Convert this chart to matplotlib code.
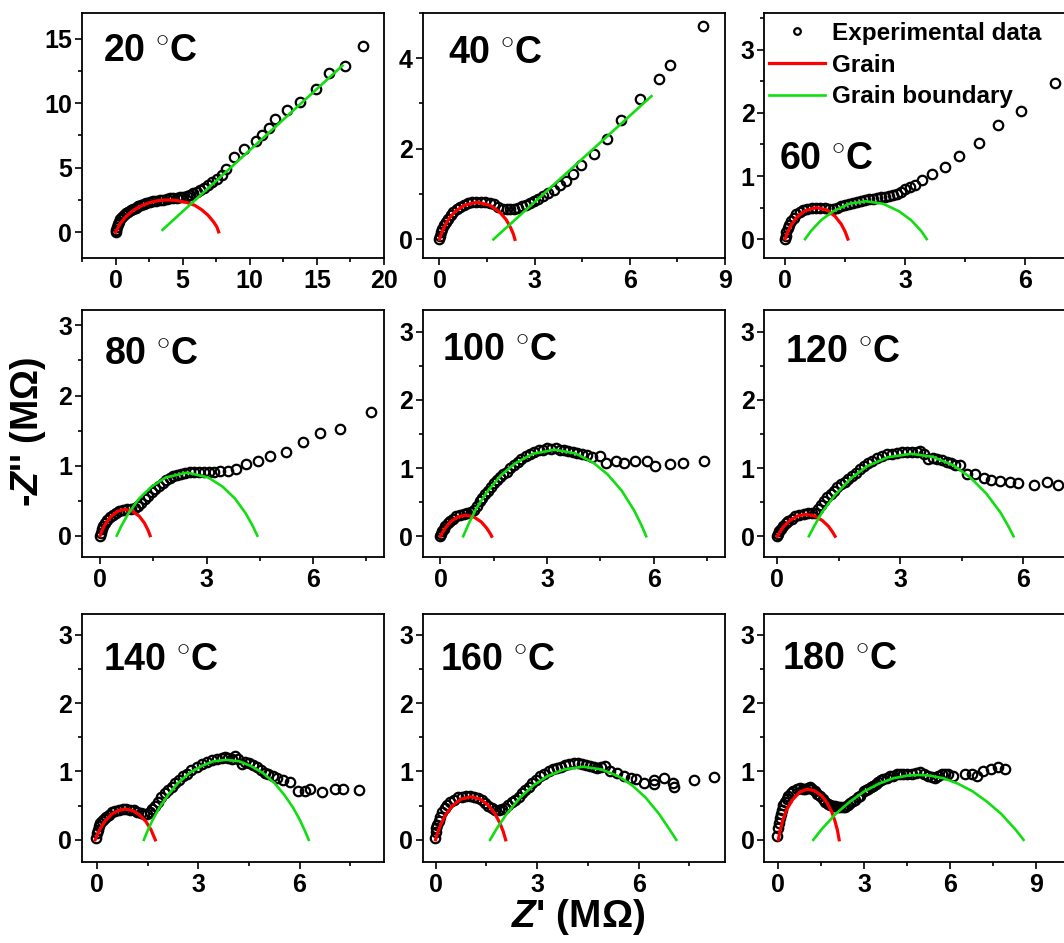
import matplotlib
matplotlib.use("Agg")
import matplotlib.pyplot as plt
from matplotlib.ticker import MultipleLocator

plt.rcParams['font.family'] = ['Liberation Sans', 'DejaVu Sans']
plt.rcParams['font.weight'] = 'bold'
plt.rcParams['mathtext.fontset'] = 'custom'
plt.rcParams['mathtext.rm'] = 'Liberation Sans:bold'
plt.rcParams['mathtext.bf'] = 'Liberation Sans:bold'
plt.rcParams['mathtext.it'] = 'Liberation Sans:italic:bold'

# ---- data (Z' and -Z'' in MOhm) ----
temps = ['20', '40', '60', '80', '100', '120', '140', '160', '180']

re_20 = [0, 0.03, 0.08, 0.15, 0.25, 0.35, 0.48, 0.62, 0.78, 0.95, 1.12, 1.3, 1.5, 1.7, 1.9,
         2.1, 2.3, 2.55, 2.8, 3.05, 3.3, 3.55, 3.8, 4.05, 4.3, 4.55, 4.8, 5.05, 5.3, 5.55,
         5.8, 6.05, 6.3, 6.6, 6.9, 7.2, 7.55, 7.9, 8.25, 8.8, 9.6, 10.5, 10.9, 11.4, 11.9,
         12.8, 13.75, 14.9, 15.9, 17.1, 18.45]
im_20 = [0, 0.2, 0.42, 0.62, 0.82, 1.0, 1.17, 1.32, 1.47, 1.6, 1.7, 1.8, 1.9, 2.0, 2.1,
         2.18, 2.25, 2.32, 2.38, 2.44, 2.49, 2.53, 2.57, 2.61, 2.64, 2.68, 2.72, 2.76, 2.82, 2.9,
         3.0, 3.12, 3.25, 3.42, 3.62, 3.85, 4.1, 4.4, 4.9, 5.85, 6.45, 7.05, 7.5, 8.05, 8.75,
         9.45, 10.05, 11.1, 12.3, 12.9, 14.4]
g_re_20 = [0, 0.3, 0.7, 1.2, 1.8, 2.5, 3.2, 3.84, 4.5, 5.3, 5.9, 6.4, 6.9, 7.3, 7.55, 7.68]
g_im_20 = [0, 0.6, 1.12, 1.6, 1.98, 2.28, 2.45, 2.5, 2.46, 2.3, 2.08, 1.75, 1.3, 0.8, 0.4, 0.02]
gb_re_20 = [3.5, 16.9]
gb_im_20 = [0.18, 12.9]

re_40 = [0, 0.02, 0.05, 0.09, 0.14, 0.2, 0.27, 0.35, 0.44, 0.54, 0.65, 0.77, 0.9, 1.03, 1.16,
         1.3, 1.44, 1.58, 1.72, 1.86, 2.0, 2.12, 2.24, 2.36, 2.48, 2.6, 2.72, 2.85, 2.98, 3.12,
         3.27, 3.43, 3.6, 3.8, 4.0, 4.22, 4.47, 4.88, 5.3, 5.72, 6.33, 6.94, 7.28, 8.32]
im_40 = [0, 0.08, 0.16, 0.24, 0.32, 0.39, 0.46, 0.53, 0.6, 0.66, 0.71, 0.76, 0.8, 0.82, 0.83,
         0.83, 0.82, 0.8, 0.77, 0.72, 0.68, 0.66, 0.66, 0.68, 0.7, 0.73, 0.76, 0.8, 0.85, 0.9,
         0.96, 1.03, 1.1, 1.2, 1.29, 1.44, 1.65, 1.89, 2.21, 2.63, 3.1, 3.53, 3.84, 4.71]
g_re_40 = [0, 0.05, 0.15, 0.3, 0.5, 0.8, 1.19, 1.6, 1.9, 2.1, 2.25, 2.33, 2.38]
g_im_40 = [0, 0.11, 0.28, 0.46, 0.62, 0.76, 0.82, 0.75, 0.6, 0.44, 0.25, 0.12, 0]
gb_re_40 = [1.7, 6.69]
gb_im_40 = [0.0, 3.16]

re_60 = [0, 0.01, 0.03, 0.06, 0.1, 0.15, 0.21, 0.28, 0.36, 0.45, 0.55, 0.66, 0.77, 0.88, 0.99,
         1.1, 1.2, 1.3, 1.4, 1.5, 1.6, 1.7, 1.8, 1.9, 2.0, 2.1, 2.2, 2.3, 2.4, 2.5,
         2.6, 2.7, 2.8, 2.9, 3.0, 3.12, 3.25, 3.42, 3.68, 4.0, 4.34, 4.85, 5.33, 5.9, 6.75]
im_60 = [0, 0.05, 0.11, 0.17, 0.23, 0.29, 0.34, 0.39, 0.43, 0.46, 0.48, 0.49, 0.5, 0.5, 0.49,
         0.48, 0.48, 0.49, 0.52, 0.54, 0.56, 0.58, 0.59, 0.61, 0.62, 0.63, 0.64, 0.65, 0.66, 0.67,
         0.68, 0.7, 0.72, 0.75, 0.79, 0.82, 0.86, 0.94, 1.04, 1.15, 1.32, 1.53, 1.81, 2.03, 2.47]
g_re_60 = [0, 0.05, 0.15, 0.3, 0.5, 0.785, 1.05, 1.25, 1.4, 1.5, 1.57]
g_im_60 = [0, 0.09, 0.22, 0.35, 0.45, 0.5, 0.46, 0.36, 0.24, 0.12, 0]
gb_re_60 = [0.5, 0.65, 0.9, 1.2, 1.6, 2.02, 2.45, 2.85, 3.15, 3.4, 3.54]
gb_im_60 = [0, 0.13, 0.3, 0.44, 0.56, 0.6, 0.56, 0.44, 0.3, 0.13, 0]

re_80 = [0, 0.02, 0.05, 0.09, 0.14, 0.2, 0.27, 0.35, 0.44, 0.54, 0.65, 0.76, 0.87, 0.97, 1.06,
         1.16, 1.26, 1.36, 1.46, 1.56, 1.66, 1.76, 1.86, 1.96, 2.06, 2.17, 2.28, 2.4, 2.52, 2.65,
         2.78, 2.92, 3.06, 3.2, 3.37, 3.6, 3.84, 4.12, 4.45, 4.78, 5.25, 5.72, 6.21, 6.75, 7.63]
im_80 = [0, 0.04, 0.09, 0.14, 0.18, 0.22, 0.26, 0.3, 0.33, 0.35, 0.37, 0.38, 0.385, 0.39, 0.42,
         0.47, 0.52, 0.57, 0.62, 0.67, 0.71, 0.75, 0.79, 0.82, 0.85, 0.87, 0.88, 0.895, 0.905, 0.91,
         0.915, 0.915, 0.915, 0.915, 0.92, 0.92, 0.95, 1.02, 1.06, 1.13, 1.2, 1.33, 1.46, 1.52, 1.76]
g_re_80 = [0, 0.05, 0.15, 0.3, 0.5, 0.705, 0.9, 1.1, 1.25, 1.35, 1.41]
g_im_80 = [0, 0.067, 0.17, 0.27, 0.35, 0.375, 0.35, 0.28, 0.18, 0.08, 0]
gb_re_80 = [0.47, 0.6, 0.8, 1.1, 1.45, 1.85, 2.45, 3.05, 3.45, 3.8, 4.1, 4.3, 4.43]
gb_im_80 = [0, 0.14, 0.32, 0.53, 0.7, 0.83, 0.9, 0.83, 0.7, 0.53, 0.32, 0.14, 0]

re_100 = [0, 0.02, 0.05, 0.09, 0.14, 0.2, 0.27, 0.35, 0.44, 0.54, 0.65, 0.76, 0.86, 0.94, 1.02,
          1.1, 1.18, 1.26, 1.34, 1.42, 1.5, 1.59, 1.68, 1.77, 1.86, 1.96, 2.06, 2.17, 2.28, 2.4,
          2.52, 2.64, 2.76, 2.88, 3.0, 3.12, 3.24, 3.36, 3.48, 3.6, 3.72, 3.85, 3.98, 4.12, 4.26,
          4.48, 4.67, 4.95, 5.16, 5.48, 5.8, 6.05, 6.47, 6.83, 7.41]
im_100 = [0, 0.03, 0.07, 0.11, 0.15, 0.19, 0.23, 0.26, 0.29, 0.31, 0.33, 0.34, 0.35, 0.39, 0.45,
          0.51, 0.56, 0.62, 0.67, 0.73, 0.78, 0.83, 0.87, 0.91, 0.95, 1.0, 1.05, 1.09, 1.14, 1.18,
          1.21, 1.24, 1.26, 1.27, 1.29, 1.28, 1.29, 1.27, 1.27, 1.25, 1.24, 1.22, 1.2, 1.19, 1.165,
          1.18, 1.08, 1.1, 1.07, 1.1, 1.11, 1.03, 1.06, 1.08, 1.1]
g_re_100 = [0, 0.05, 0.15, 0.3, 0.5, 0.72, 0.95, 1.15, 1.3, 1.4, 1.44]
g_im_100 = [0, 0.05, 0.13, 0.22, 0.285, 0.31, 0.28, 0.21, 0.12, 0.04, 0]
gb_re_100 = [0.64, 0.8, 1.0, 1.3, 1.7, 2.1, 2.6, 3.215, 3.8, 4.3, 4.7, 5.1, 5.45, 5.65, 5.79]
gb_im_100 = [0, 0.19, 0.4, 0.645, 0.895, 1.07, 1.21, 1.27, 1.215, 1.08, 0.91, 0.67, 0.38, 0.17, 0]

re_120 = [0, 0.02, 0.05, 0.09, 0.14, 0.2, 0.27, 0.35, 0.44, 0.54, 0.64, 0.74, 0.84, 0.93, 1.0,
          1.07, 1.14, 1.22, 1.3, 1.38, 1.46, 1.55, 1.64, 1.73, 1.82, 1.92, 2.02, 2.12, 2.22, 2.32,
          2.43, 2.55, 2.67, 2.8, 2.92, 3.04, 3.16, 3.28, 3.4, 3.49, 3.59, 3.69, 3.8, 3.9, 4.02,
          4.14, 4.24, 4.34, 4.47, 4.63, 4.83, 5.04, 5.22, 5.44, 5.69, 5.89, 6.26, 6.59, 6.85]
im_120 = [0, 0.03, 0.07, 0.11, 0.15, 0.19, 0.23, 0.26, 0.29, 0.31, 0.33, 0.34, 0.335, 0.34, 0.4,
          0.46, 0.51, 0.57, 0.62, 0.67, 0.72, 0.76, 0.8, 0.84, 0.88, 0.93, 0.98, 1.03, 1.07, 1.11,
          1.15, 1.18, 1.2, 1.21, 1.22, 1.24, 1.23, 1.24, 1.23, 1.25, 1.2, 1.14, 1.15, 1.14, 1.12,
          1.09, 1.07, 1.04, 1.04, 0.92, 0.92, 0.86, 0.83, 0.81, 0.79, 0.78, 0.755, 0.8, 0.755]
g_re_120 = [0, 0.05, 0.15, 0.3, 0.5, 0.705, 0.9, 1.1, 1.25, 1.35, 1.41]
g_im_120 = [0, 0.053, 0.14, 0.23, 0.3, 0.32, 0.3, 0.23, 0.145, 0.06, 0]
gb_re_120 = [0.77, 0.9, 1.1, 1.4, 1.8, 2.2, 2.7, 3.27, 3.8, 4.3, 4.7, 5.1, 5.45, 5.65, 5.77]
gb_im_120 = [0, 0.15, 0.36, 0.6, 0.85, 1.03, 1.16, 1.21, 1.165, 1.04, 0.87, 0.63, 0.35, 0.14, 0]

re_140 = [-0.03, 0.0, 0.02, 0.05, 0.09, 0.14, 0.2, 0.27, 0.35, 0.44, 0.54, 0.65, 0.76, 0.87, 0.98,
          1.09, 1.2, 1.3, 1.4, 1.48, 1.56, 1.64, 1.72, 1.81, 1.91, 2.01, 2.11, 2.21, 2.31, 2.43,
          2.55, 2.67, 2.8, 2.95, 3.1, 3.25, 3.4, 3.55, 3.69, 3.79, 3.89, 3.99, 4.09, 4.19, 4.29,
          4.39, 4.49, 4.61, 4.73, 4.86, 4.98, 5.08, 5.2, 5.33, 5.52, 5.72, 5.95, 6.17, 6.32, 6.66,
          7.06, 7.28, 7.77]
im_140 = [0.02, 0.1, 0.15, 0.2, 0.24, 0.28, 0.31, 0.34, 0.37, 0.4, 0.42, 0.44, 0.45, 0.45, 0.44,
          0.43, 0.41, 0.39, 0.38, 0.38, 0.41, 0.45, 0.5, 0.56, 0.63, 0.68, 0.73, 0.78, 0.83, 0.88,
          0.93, 0.97, 1.02, 1.07, 1.11, 1.14, 1.17, 1.19, 1.2, 1.21, 1.2, 1.19, 1.22, 1.18, 1.11,
          1.14, 1.13, 1.1, 1.06, 1.02, 0.985, 0.96, 0.93, 0.9, 0.88, 0.84, 0.72, 0.72, 0.74, 0.7,
          0.74, 0.75, 0.73]
g_re_140 = [-0.05, 0.0, 0.1, 0.25, 0.45, 0.65, 0.84, 1.05, 1.25, 1.45, 1.6, 1.73]
g_im_140 = [0, 0.063, 0.165, 0.28, 0.38, 0.43, 0.45, 0.43, 0.37, 0.27, 0.15, 0]
gb_re_140 = [1.39, 1.5, 1.65, 1.85, 2.1, 2.4, 2.75, 3.1, 3.45, 3.83, 4.21, 4.56, 4.91, 5.26,
             5.56, 5.81, 6.01, 6.16, 6.27]
gb_im_140 = [0, 0.13, 0.29, 0.47, 0.65, 0.83, 0.98, 1.08, 1.15, 1.17, 1.15, 1.08, 0.98, 0.83,
             0.65, 0.47, 0.29, 0.13, 0]

re_160 = [-0.03, 0.0, 0.02, 0.05, 0.09, 0.14, 0.2, 0.27, 0.35, 0.44, 0.54, 0.65, 0.77, 0.89, 1.02,
          1.14, 1.26, 1.36, 1.46, 1.56, 1.66, 1.76, 1.86, 1.96, 2.05, 2.15, 2.25, 2.35, 2.45, 2.55,
          2.65, 2.75, 2.84, 2.96, 3.09, 3.21, 3.34, 3.46, 3.58, 3.7, 3.83, 3.95, 4.08, 4.2, 4.32,
          4.45, 4.57, 4.67, 4.77, 4.88, 4.99, 5.16, 5.36, 5.56, 5.76, 5.93, 6.17, 6.45, 6.45, 6.76,
          7.02, 7.04, 7.63, 8.22]
im_160 = [0.03, 0.12, 0.17, 0.22, 0.28, 0.34, 0.4, 0.46, 0.51, 0.55, 0.59, 0.62, 0.63, 0.64, 0.64,
          0.63, 0.61, 0.58, 0.54, 0.5, 0.46, 0.44, 0.44, 0.45, 0.46, 0.51, 0.56, 0.59, 0.63, 0.68,
          0.73, 0.78, 0.83, 0.88, 0.93, 0.97, 1.0, 1.03, 1.05, 1.07, 1.1, 1.11, 1.12, 1.12, 1.11,
          1.1, 1.08, 1.06, 1.05, 1.06, 1.08, 1.0, 0.98, 0.94, 0.91, 0.89, 0.83, 0.81, 0.87, 0.9,
          0.83, 0.77, 0.88, 0.92]
g_re_160 = [0, 0.05, 0.15, 0.3, 0.5, 0.75, 1.035, 1.3, 1.55, 1.75, 1.9, 2.0, 2.07]
g_im_160 = [0, 0.087, 0.22, 0.37, 0.5, 0.595, 0.63, 0.6, 0.51, 0.385, 0.245, 0.12, 0]
gb_re_160 = [1.61, 1.8, 2.1, 2.5, 2.9, 3.3, 3.8, 4.36, 4.9, 5.4, 5.8, 6.2, 6.6, 6.9, 7.11]
gb_im_160 = [0, 0.16, 0.38, 0.62, 0.8, 0.93, 1.03, 1.07, 1.03, 0.93, 0.8, 0.62, 0.38, 0.16, 0]

re_180 = [-0.03, 0.0, 0.03, 0.06, 0.09, 0.12, 0.17, 0.23, 0.29, 0.35, 0.43, 0.52, 0.64, 0.76, 0.85,
          0.93, 1.02, 1.1, 1.19, 1.28, 1.36, 1.45, 1.54, 1.63, 1.72, 1.8, 1.89, 1.98, 2.07, 2.15,
          2.24, 2.33, 2.42, 2.5, 2.59, 2.67, 2.76, 2.85, 2.97, 3.06, 3.14, 3.23, 3.31, 3.4, 3.49,
          3.57, 3.66, 3.78, 3.9, 4.01, 4.13, 4.25, 4.36, 4.5, 4.65, 4.8, 4.94, 5.08, 5.23, 5.35,
          5.47, 5.58, 5.7, 5.82, 5.93, 6.1, 6.51, 6.74, 6.92, 7.15, 7.41, 7.67, 7.91]
im_180 = [0.05, 0.17, 0.25, 0.32, 0.38, 0.44, 0.51, 0.56, 0.6, 0.64, 0.68, 0.72, 0.75, 0.76, 0.75,
          0.74, 0.76, 0.77, 0.74, 0.71, 0.67, 0.64, 0.6, 0.56, 0.53, 0.51, 0.5, 0.49, 0.48, 0.48,
          0.48, 0.48, 0.51, 0.54, 0.57, 0.59, 0.62, 0.64, 0.71, 0.73, 0.75, 0.77, 0.79, 0.82, 0.84,
          0.87, 0.89, 0.91, 0.93, 0.94, 0.96, 0.96, 0.97, 0.97, 0.97, 0.98, 0.99, 0.96, 0.93, 0.92,
          0.91, 0.94, 0.97, 0.97, 0.97, 0.94, 0.96, 0.96, 0.93, 1.0, 1.04, 1.06, 1.03]
g_re_180 = [0, 0.05, 0.15, 0.3, 0.5, 0.75, 1.0, 1.25, 1.5, 1.7, 1.85, 1.97, 2.06, 2.12]
g_im_180 = [0, 0.12, 0.28, 0.45, 0.59, 0.7, 0.74, 0.72, 0.65, 0.54, 0.42, 0.28, 0.14, 0]
gb_re_180 = [1.22, 1.5, 2.0, 2.5, 3.0, 3.5, 4.0, 4.5, 4.885, 5.27, 5.77, 6.27, 6.77, 7.27,
             7.77, 8.27, 8.55]
gb_im_180 = [0, 0.15, 0.38, 0.56, 0.71, 0.82, 0.9, 0.94, 0.95, 0.94, 0.9, 0.82, 0.71, 0.56,
             0.38, 0.15, 0]

# axis ranges / tick steps per panel
xlims = [(-2.5, 20), (-0.53, 9), (-0.52, 7.03), (-0.51, 8), (-0.5, 8), (-0.32, 7.06),
         (-0.44, 8.5), (-0.38, 8.54), (-0.49, 10.04)]
ylims = [(-2, 17), (-0.41, 5.0), (-0.3, 3.59), (-0.3, 3.22), (-0.3, 3.32), (-0.3, 3.32),
         (-0.32, 3.3), (-0.32, 3.3), (-0.32, 3.3)]
xsteps = [5, 3, 3, 3, 3, 3, 3, 3, 3]
ysteps = [5, 2, 1, 1, 1, 1, 1, 1, 1]
label_pos = [(0.07, 0.845), (0.084, 0.837), (0.05, 0.404), (0.074, 0.82), (0.063, 0.838),
             (0.069, 0.83), (0.069, 0.815), (0.057, 0.815), (0.058, 0.82)]

data = [(re_20, im_20, g_re_20, g_im_20, gb_re_20, gb_im_20),
        (re_40, im_40, g_re_40, g_im_40, gb_re_40, gb_im_40),
        (re_60, im_60, g_re_60, g_im_60, gb_re_60, gb_im_60),
        (re_80, im_80, g_re_80, g_im_80, gb_re_80, gb_im_80),
        (re_100, im_100, g_re_100, g_im_100, gb_re_100, gb_im_100),
        (re_120, im_120, g_re_120, g_im_120, gb_re_120, gb_im_120),
        (re_140, im_140, g_re_140, g_im_140, gb_re_140, gb_im_140),
        (re_160, im_160, g_re_160, g_im_160, gb_re_160, gb_im_160),
        (re_180, im_180, g_re_180, g_im_180, gb_re_180, gb_im_180)]

W, H = 1064, 943
fig = plt.figure(figsize=(W / 100, H / 100), dpi=100)

col_left = [82, 422.7, 764.3]
col_width = 302
rows = [(12.7, 258), (310, 556.7), (614.3, 861.7)]

red = '#ff0000'
green = '#11dd11'

for i in range(9):
    r, c = divmod(i, 3)
    top, bot = rows[r]
    ax = fig.add_axes([col_left[c] / W, 1 - bot / H, col_width / W, (bot - top) / H])
    re, im, gre, gim, bre, bim = data[i]
    ax.plot(re, im, 'o', ms=6.8, mfc='none', mec='black', mew=1.6, zorder=2,
            label='Experimental data')
    ax.plot(gre, gim, '-', color=red, lw=2.3, zorder=3, label='Grain')
    ax.plot(bre, bim, '-', color=green, lw=1.9, zorder=3, label='Grain boundary')

    ax.set_xlim(*xlims[i])
    ax.set_ylim(*ylims[i])
    ax.xaxis.set_major_locator(MultipleLocator(xsteps[i]))
    ax.xaxis.set_minor_locator(MultipleLocator(xsteps[i] / 2))
    ax.yaxis.set_major_locator(MultipleLocator(ysteps[i]))
    ax.yaxis.set_minor_locator(MultipleLocator(ysteps[i] / 2))
    ax.tick_params(which='both', direction='out', width=1.2, labelsize=18)
    ax.tick_params(which='major', length=5)
    ax.tick_params(which='minor', length=3)
    ax.tick_params(axis='x', pad=3)
    ax.tick_params(axis='y', pad=2)
    for sp in ax.spines.values():
        sp.set_linewidth(1.3)

    lx, ly = label_pos[i]
    ax.text(lx, ly, temps[i] + r' $^{\circ}$C', transform=ax.transAxes,
            fontsize=27, fontweight='bold', ha='left', va='center')

    if i == 2:
        ax.legend(loc='upper left', bbox_to_anchor=(0.015, 0.963), frameon=False,
                  fontsize=17.5, handlelength=2.3, handletextpad=0.3, labelspacing=0.36,
                  borderpad=0, borderaxespad=0, markerscale=0.7)

fig.text(28 / W, 1 - 432 / H, "-$\\mathit{Z}$'' (M\u03a9)", rotation=90,
         fontsize=27, fontweight='bold', ha='center', va='center')
fig.text(578 / W, 1 - 917 / H, "$\\mathit{Z}$' (M\u03a9)",
         fontsize=28, fontweight='bold', ha='center', va='center')

fig.savefig('out.png', dpi=100)
